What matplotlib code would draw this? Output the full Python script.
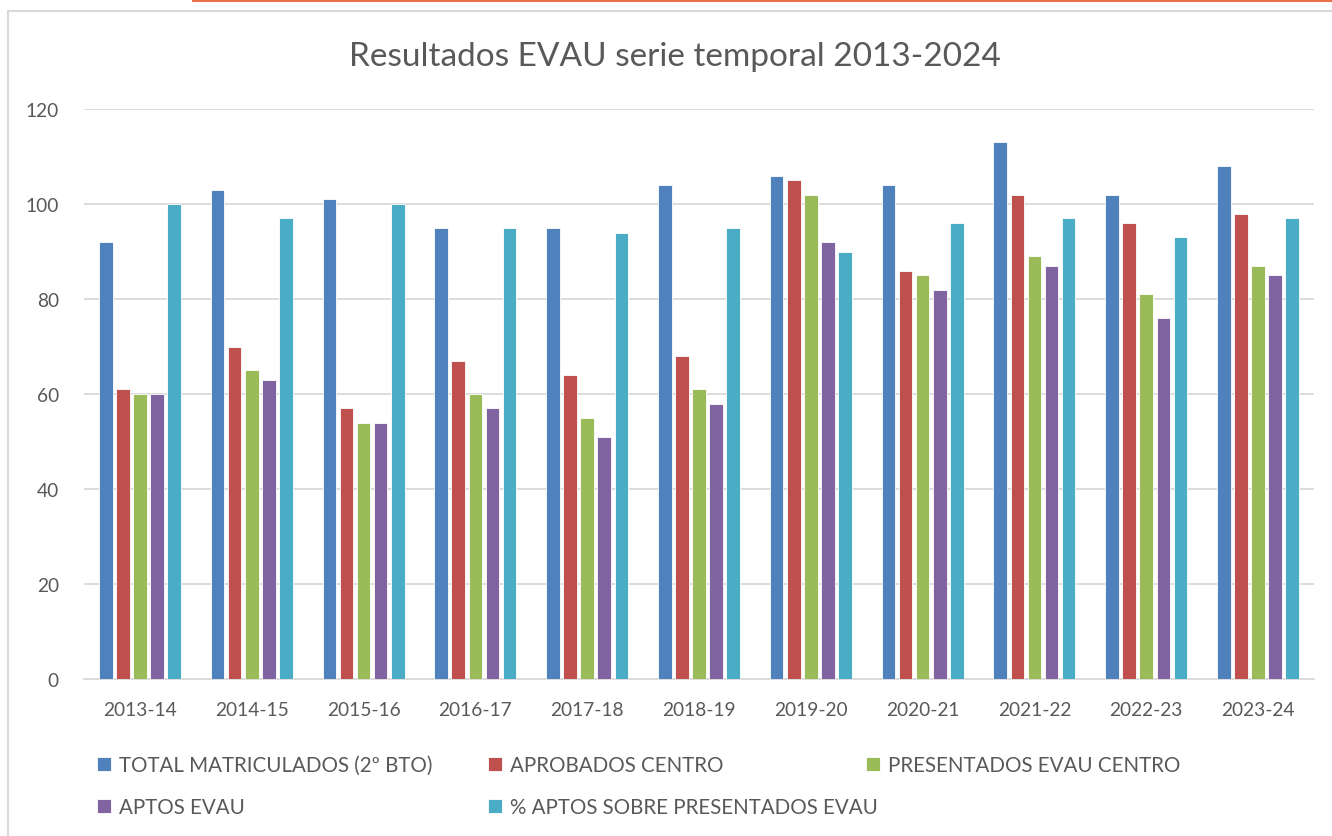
import matplotlib.pyplot as plt
import numpy as np
from matplotlib.patches import Rectangle
from matplotlib.lines import Line2D

plt.rcParams['font.family'] = ['Lato', 'DejaVu Sans']

# datos
cursos = ["2013-14", "2014-15", "2015-16", "2016-17", "2017-18", "2018-19",
          "2019-20", "2020-21", "2021-22", "2022-23", "2023-24"]
total_matriculados = [92, 103, 101, 95, 95, 104, 106, 104, 113, 102, 108]
aprobados_centro = [61, 70, 57, 67, 64, 68, 105, 86, 102, 96, 98]
presentados_evau = [60, 65, 54, 60, 55, 61, 102, 85, 89, 81, 87]
aptos_evau = [60, 63, 54, 57, 51, 58, 92, 82, 87, 76, 85]
pct_aptos = [100, 97, 100, 95, 94, 95, 90, 96, 97, 93, 97]

nombres = ["TOTAL MATRICULADOS (2º BTO)", "APROBADOS CENTRO",
           "PRESENTADOS EVAU CENTRO", "APTOS EVAU",
           "% APTOS SOBRE PRESENTADOS EVAU"]
series = [total_matriculados, aprobados_centro, presentados_evau, aptos_evau, pct_aptos]
colores = ['#4F81BD', '#C0504D', '#9BBB59', '#8064A2', '#4BACC6']

gris_txt = '#595959'
gris_lin = '#D9D9D9'

W, H = 1332, 837
fig = plt.figure(figsize=(W / 100, H / 100), dpi=100)

# marco y linea naranja
fig.patches.append(Rectangle((8 / W, -0.01), 1.0, 1 - 12 / H + 0.01, transform=fig.transFigure,
                             fill=False, edgecolor='#D9D9D9', linewidth=1.5))
fig.add_artist(Line2D([193 / W, 1330 / W], [1 - 1 / H, 1 - 1 / H], transform=fig.transFigure,
                      color='#E97048', linewidth=2.2))

ax = fig.add_axes([84 / W, 1 - 680 / H, 1230 / W, 570 / H])

x = np.arange(len(cursos))
ancho = 0.122
paso = 0.153
barras = []
for i, (vals, col) in enumerate(zip(series, colores)):
    b = ax.bar(x + (i - 2) * paso, vals, width=ancho, color=col,
               edgecolor='white', linewidth=0.6, zorder=3)
    barras.append(b)

ax.set_xlim(-0.5, len(cursos) - 0.5)
ax.set_ylim(0, 120)
ax.set_yticks(range(0, 121, 20))
ax.set_xticks(x)
ax.set_xticklabels(cursos)
ax.grid(axis='y', color=gris_lin, linewidth=1.3, zorder=0)
for s in ['left', 'right', 'top']:
    ax.spines[s].set_visible(False)
ax.spines['bottom'].set_color(gris_lin)
ax.spines['bottom'].set_linewidth(1.3)
ax.tick_params(axis='both', length=0, labelsize=13.8, colors=gris_txt)
ax.tick_params(axis='y', pad=18)
ax.tick_params(axis='x', pad=16)

fig.text(675 / W, 1 - 57 / H, "Resultados EVAU serie temporal 2013-2024",
         ha='center', va='center', fontsize=24, color=gris_txt)

# leyenda (una por entrada para alinear como en el original)
pos_ley = [(97, 766), (488, 766), (866, 766), (97, 808), (488, 808)]
for b, nom, (px, py) in zip(barras, nombres, pos_ley):
    fig.legend([b[0]], [nom], loc='center left', bbox_to_anchor=(px / W, 1 - py / H),
               frameon=False, fontsize=14.8, handlelength=0.7, handleheight=0.7,
               handletextpad=0.35, borderpad=0, borderaxespad=0, labelcolor=gris_txt)

fig.savefig("out.png", dpi=100)
